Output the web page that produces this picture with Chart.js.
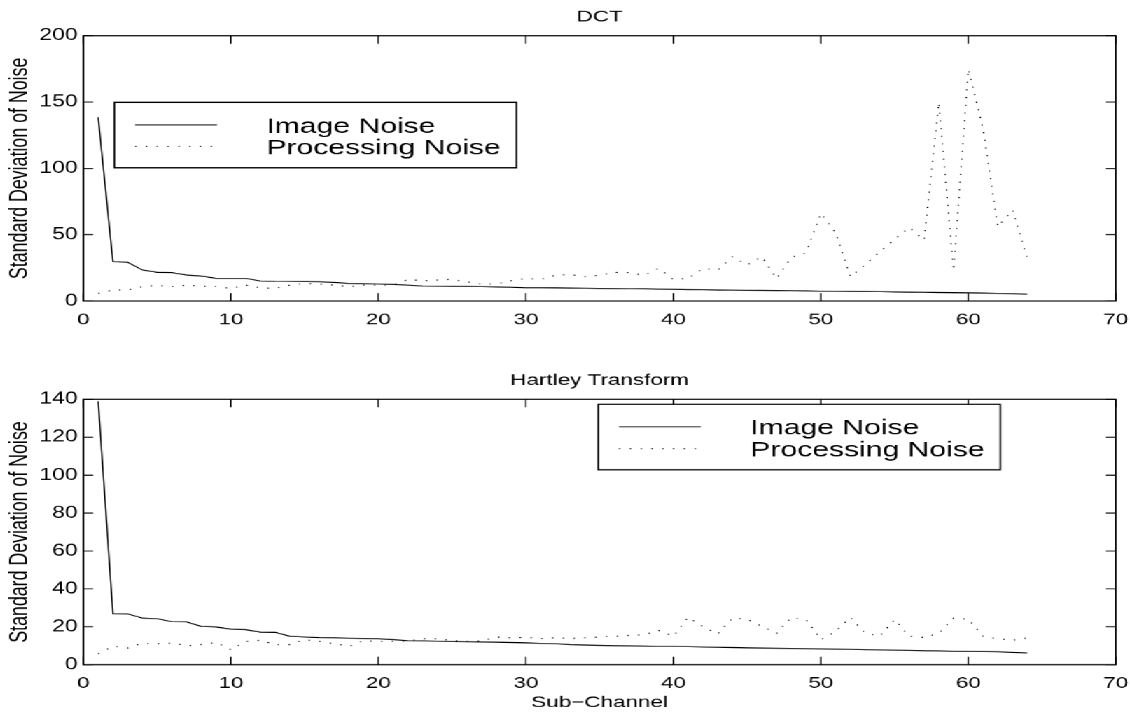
<!DOCTYPE html>
<html>
<head>
<meta charset="utf-8">
<script src="https://cdn.jsdelivr.net/npm/chart.js@4.4.1/dist/chart.umd.min.js"></script>
<style>
  html, body { margin: 0; padding: 0; background: #fff; overflow: hidden; }
  /* the original figure is stretched sideways, so draw narrow and widen it */
  #figure { position: absolute; left: 0; top: 0; width: 807px; height: 715px; transform: scaleX(1.40025); transform-origin: 0 0; }
  #figure canvas { position: absolute; left: 0; }
  #dct { top: 0; }
  #hartley { top: 350px; }
</style>
</head>
<body>
<div id="figure">
  <canvas id="dct" width="807" height="350"></canvas>
  <canvas id="hartley" width="807" height="365"></canvas>
</div>
<script>
//Sub-channel numbers 1..64
const channels = Array.from({ length: 64 }, (_, i) => i + 1);

//DCT
const dctImageNoise = [
  138.5, 29.6, 29.2, 23.4, 21.6, 21.4, 19.6, 18.8, 17.1, 17.1, 17.1, 15.1, 14.8, 14.7, 14.6, 14.5,
  14.0, 13.3, 13.0, 12.8, 12.5, 12.0, 11.3, 11.2, 11.1, 11.0, 10.8, 10.6, 10.4, 10.0, 10.0, 9.9,
  9.8, 9.7, 9.5, 9.4, 9.3, 9.2, 9.0, 8.8, 8.6, 8.5, 8.3, 8.2, 8.1, 8.0, 7.9, 7.8,
  7.6, 7.4, 7.3, 7.2, 7.1, 7.0, 6.8, 6.7, 6.6, 6.4, 6.3, 6.1, 6.0, 5.8, 5.5, 5.2,
];
const dctProcessingNoise = [
  5.8, 8.3, 8.3, 10.8, 11.8, 10.8, 12.0, 11.3, 10.8, 9.5, 12.0, 10.0, 9.5, 12.0, 13.3, 12.8,
  12.0, 10.8, 12.0, 12.0, 12.0, 16.3, 15.3, 15.8, 16.3, 14.5, 12.8, 12.8, 15.3, 17.0, 16.3, 19.4,
  20.0, 18.3, 19.5, 21.6, 21.4, 19.5, 24.6, 16.3, 17.0, 24.6, 23.3, 33.4, 27.2, 33.4, 17.0, 33.0,
  36.4, 66.0, 51.5, 18.3, 27.2, 37.2, 46.5, 55.5, 46.0, 149.5, 22.9, 174.6, 130.0, 56.0, 68.6, 32.2,
];

//Hartley Transform
const hartleyImageNoise = [
  139.0, 26.9, 26.8, 24.6, 24.3, 22.7, 22.6, 20.2, 19.9, 18.8, 18.5, 17.2, 17.1, 15.0, 14.6, 14.3,
  14.2, 14.0, 13.9, 13.7, 13.2, 12.7, 12.6, 12.4, 12.2, 12.1, 12.0, 11.9, 11.7, 11.5, 11.3, 11.1,
  10.6, 10.4, 10.2, 10.0, 9.9, 9.8, 9.7, 9.7, 9.5, 9.3, 9.2, 9.1, 8.9, 8.8, 8.7, 8.6,
  8.4, 8.3, 8.2, 8.1, 7.9, 7.8, 7.7, 7.6, 7.4, 7.3, 7.1, 7.0, 6.9, 6.8, 6.5, 6.2,
];
const hartleyProcessingNoise = [
  5.8, 9.7, 8.8, 11.4, 11.1, 11.4, 10.0, 10.6, 11.8, 7.9, 12.3, 12.9, 10.6, 10.6, 13.2, 12.3,
  11.1, 9.7, 12.7, 12.3, 12.3, 12.5, 13.7, 13.7, 12.7, 12.3, 12.5, 14.6, 14.2, 14.4, 13.9, 14.2,
  13.9, 14.2, 14.6, 15.0, 15.5, 15.8, 18.1, 15.0, 25.0, 20.2, 16.2, 24.6, 24.0, 20.2, 16.6, 25.0,
  23.8, 13.2, 17.6, 25.0, 16.6, 15.1, 23.8, 15.0, 14.4, 16.6, 24.6, 24.0, 15.0, 13.7, 12.9, 14.2,
];

const FONT = '"Liberation Sans", Arial, Helvetica, sans-serif';
Chart.defaults.font.family = FONT;
Chart.defaults.color = "#000";

//Box round the axes with inward ticks on all four sides
const frame = {
  id: "frame",
  afterDatasetsDraw(chart) {
    const { ctx, chartArea, scales } = chart;
    const { left, right, top, bottom } = chartArea;
    ctx.save();
    ctx.strokeStyle = "#000";
    ctx.lineWidth = 1;
    ctx.beginPath();
    scales.x.ticks.forEach((t) => {
      const px = scales.x.getPixelForValue(t.value);
      ctx.moveTo(px, bottom);
      ctx.lineTo(px, bottom - 8);
      ctx.moveTo(px, top);
      ctx.lineTo(px, top + 8);
    });
    scales.y.ticks.forEach((t) => {
      const py = scales.y.getPixelForValue(t.value);
      ctx.moveTo(left, py);
      ctx.lineTo(left + 7, py);
      ctx.moveTo(right, py);
      ctx.lineTo(right - 7, py);
    });
    ctx.stroke();
    ctx.lineWidth = 1.2;
    ctx.strokeRect(left, top, right - left, bottom - top);
    ctx.restore();
  },
};

//MATLAB style legend box inside the axes
const boxLegend = {
  id: "boxLegend",
  afterDraw(chart, args, opts) {
    const { ctx, chartArea } = chart;
    const bx = chartArea.left + opts.left;
    const by = chartArea.top + opts.top;
    const w = 287;
    const h = 65.5;
    ctx.save();
    ctx.fillStyle = "#fff";
    ctx.fillRect(bx, by, w, h);
    ctx.strokeStyle = "#000";
    ctx.lineWidth = 1.2;
    ctx.strokeRect(bx, by, w, h);
    chart.data.datasets.forEach((ds, i) => {
      const ly = by + 22.6 + i * 21.7;
      ctx.beginPath();
      ctx.setLineDash(ds.borderDash || []);
      ctx.strokeStyle = ds.borderColor;
      ctx.lineWidth = ds.borderWidth;
      ctx.moveTo(bx + 14.8, ly);
      ctx.lineTo(bx + 73.2, ly);
      ctx.stroke();
      ctx.setLineDash([]);
      ctx.fillStyle = "#000";
      ctx.font = "21.5px " + FONT;
      ctx.textAlign = "left";
      ctx.textBaseline = "alphabetic";
      ctx.fillText(ds.label, bx + 108.5, ly + 7.7);
    });
    ctx.restore();
  },
};

const makeDatasets = (image, processing) => [
  {
    label: "Image Noise",
    data: image,
    borderColor: "#000",
    borderWidth: 1,
    pointRadius: 0,
    tension: 0,
  },
  {
    label: "Processing Noise",
    data: processing,
    borderColor: "#000",
    borderWidth: 1,
    borderDash: [1, 6.7],
    pointRadius: 0,
    tension: 0,
  },
];

const makeConfig = (o) => ({
  type: "line",
  data: {
    labels: channels,
    datasets: makeDatasets(o.image, o.processing),
  },
  options: {
    responsive: false,
    animation: false,
    devicePixelRatio: 1.4,
    layout: { padding: { left: 0, right: 10.7, top: 0, bottom: 0 } },
    scales: {
      x: {
        type: "linear",
        min: 0,
        max: 70,
        grid: { display: false, drawTicks: false },
        border: { display: false },
        ticks: { stepSize: 10, padding: 9.5, color: "#000", font: { size: 16 } },
        title: {
          display: !!o.xTitle,
          text: o.xTitle || "",
          color: "#000",
          font: { size: 16 },
          padding: { top: 0, bottom: 2.5 },
        },
        afterFit: (scale) => {
          scale.height = o.xHeight;
          scale.paddingLeft = 0;
          scale.paddingRight = 0;
        },
      },
      y: {
        min: 0,
        max: o.yMax,
        grid: { display: false, drawTicks: false },
        border: { display: false },
        ticks: { stepSize: o.yStep, padding: 4, color: "#000", font: { size: 16.5 } },
        title: {
          display: true,
          text: "Standard Deviation of Noise",
          color: "#000",
          font: { size: 17.8 },
          padding: { top: 4, bottom: 0 },
        },
        afterFit: (scale) => {
          scale.width = 59.5;
          scale.paddingTop = 0;
          scale.paddingBottom = 0;
        },
      },
    },
    plugins: {
      legend: { display: false },
      tooltip: { enabled: false },
      title: {
        display: true,
        text: o.title,
        color: "#000",
        fullSize: false,
        font: { size: 16, weight: "normal" },
        padding: o.titlePadding,
      },
      boxLegend: o.legendAt,
    },
  },
  plugins: [frame, boxLegend],
});

//config_1
const config_1 = makeConfig({
  title: "DCT",
  titlePadding: { top: 7.5, bottom: 9 },
  image: dctImageNoise,
  processing: dctProcessingNoise,
  yMax: 200,
  yStep: 50,
  xHeight: 49,
  legendAt: { left: 22.1, top: 66.6 },
});

//config_2
const config_2 = makeConfig({
  title: "Hartley Transform",
  titlePadding: { top: 20.9, bottom: 9.2 },
  image: hartleyImageNoise,
  processing: hartleyProcessingNoise,
  yMax: 140,
  yStep: 20,
  xHeight: 50.3,
  xTitle: "Sub\u2212Channel",
  legendAt: { left: 367.4, top: 5 },
});

var myChart_1 = new Chart(document.getElementById("dct"), config_1);
var myChart_2 = new Chart(document.getElementById("hartley"), config_2);
</script>
</body>
</html>
